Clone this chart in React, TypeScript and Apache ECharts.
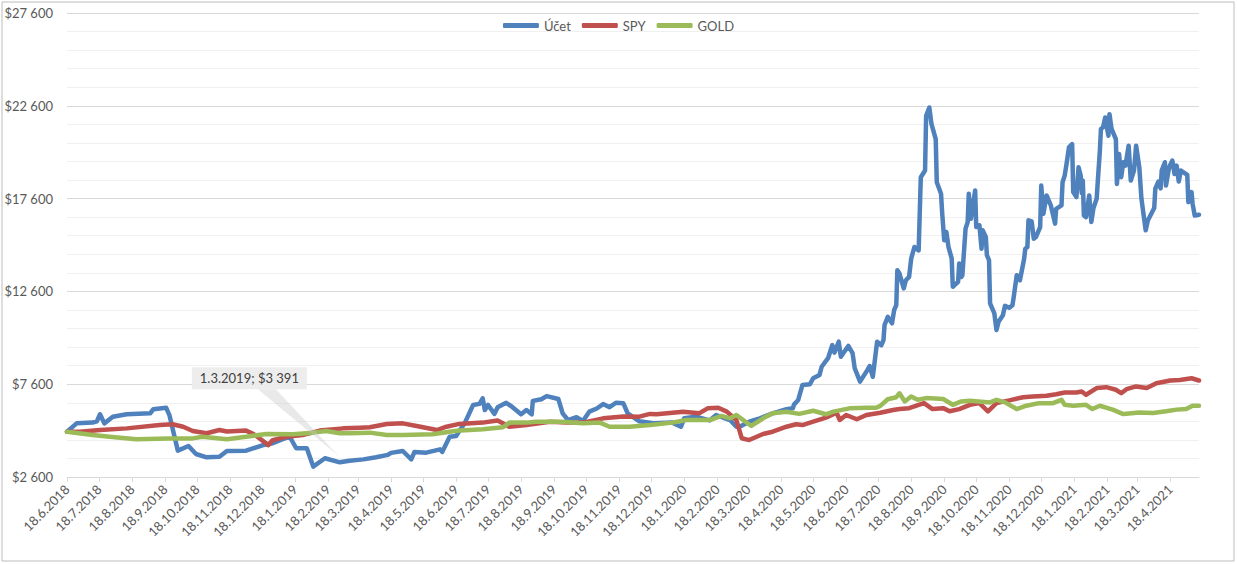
import React, { useEffect, useRef } from 'react';
import * as echarts from 'echarts';

const SERIES_NAMES = ['Účet', 'SPY', 'GOLD'];
const SERIES_COLORS = ['#4f81bd', '#c0504d', '#9bbb59'];

const X_TICK_LABELS = [
  '18.6.2018', '18.7.2018', '18.8.2018', '18.9.2018', '18.10.2018', '18.11.2018', '18.12.2018',
  '18.1.2019', '18.2.2019', '18.3.2019', '18.4.2019', '18.5.2019', '18.6.2019', '18.7.2019',
  '18.8.2019', '18.9.2019', '18.10.2019', '18.11.2019', '18.12.2019', '18.1.2020', '18.2.2020',
  '18.3.2020', '18.4.2020', '18.5.2020', '18.6.2020', '18.7.2020', '18.8.2020', '18.9.2020',
  '18.10.2020', '18.11.2020', '18.12.2020', '18.1.2021', '18.2.2021', '18.3.2021', '18.4.2021',
];
const X_START = '2018-06-18';
const X_END = '2021-05-15';

const Y_MIN = 2600;
const Y_MAX = 27600;
const Y_MAJOR = 5000;
const Y_MINOR = 1000;

const UCET: [string, number][] = [
  ['2018-06-18', 5040], ['2018-06-27', 5490], ['2018-07-12', 5530], ['2018-07-16', 5600],
  ['2018-07-19', 5980], ['2018-07-23', 5490], ['2018-07-31', 5850], ['2018-08-13', 5980],
  ['2018-09-04', 6030], ['2018-09-07', 6250], ['2018-09-19', 6330], ['2018-09-22', 5950],
  ['2018-09-30', 4020], ['2018-10-10', 4270], ['2018-10-17', 3840], ['2018-10-27', 3660],
  ['2018-11-08', 3690], ['2018-11-15', 4000], ['2018-12-03', 4020], ['2018-12-19', 4320],
  ['2018-12-28', 4420], ['2019-01-04', 4590], ['2019-01-13', 4770], ['2019-01-19', 4150],
  ['2019-01-29', 4150], ['2019-02-04', 3160], ['2019-02-15', 3610], ['2019-03-01', 3391],
  ['2019-03-10', 3480], ['2019-03-23', 3550], ['2019-04-04', 3660], ['2019-04-15', 3790],
  ['2019-04-18', 3900], ['2019-04-29', 4000], ['2019-05-07', 3550], ['2019-05-10', 3950],
  ['2019-05-21', 3910], ['2019-06-03', 4090], ['2019-06-05', 3950], ['2019-06-12', 4770],
  ['2019-06-18', 4810], ['2019-06-26', 5490], ['2019-07-04', 6480], ['2019-07-10', 6540],
  ['2019-07-13', 6840], ['2019-07-15', 6210], ['2019-07-18', 6480], ['2019-07-24', 6000],
  ['2019-07-27', 6360], ['2019-08-04', 6600], ['2019-08-10', 6360], ['2019-08-18', 5980],
  ['2019-08-23', 6210], ['2019-08-28', 5980], ['2019-08-29', 6700], ['2019-09-06', 6790],
  ['2019-09-11', 6960], ['2019-09-22', 6800], ['2019-09-26', 6030], ['2019-10-01', 5670],
  ['2019-10-09', 5820], ['2019-10-15', 5620], ['2019-10-21', 6120], ['2019-10-28', 6290],
  ['2019-11-03', 6530], ['2019-11-09', 6360], ['2019-11-15', 6600], ['2019-11-22', 6570],
  ['2019-11-26', 6030], ['2019-12-07', 5600], ['2019-12-20', 5500], ['2020-01-07', 5530],
  ['2020-01-15', 5310], ['2020-01-18', 5760], ['2020-01-29', 5850], ['2020-02-11', 5650],
  ['2020-02-17', 5940], ['2020-03-01', 5670], ['2020-03-07', 5310], ['2020-03-10', 5310],
  ['2020-03-19', 5580], ['2020-03-29', 5760], ['2020-04-10', 6030], ['2020-04-23', 6250],
  ['2020-04-29', 6300], ['2020-04-30', 6500], ['2020-05-04', 6750], ['2020-05-08', 7560],
  ['2020-05-15', 7600], ['2020-05-18', 7920], ['2020-05-24', 8100], ['2020-05-26', 8540],
  ['2020-06-01', 9000], ['2020-06-05', 9710], ['2020-06-07', 9300], ['2020-06-11', 9890],
  ['2020-06-13', 9080], ['2020-06-20', 9660], ['2020-06-24', 9270], ['2020-06-26', 8460],
  ['2020-07-01', 7740], ['2020-07-08', 8370], ['2020-07-10', 8580], ['2020-07-13', 8000],
  ['2020-07-17', 9890], ['2020-07-21', 9700], ['2020-07-23', 9980], ['2020-07-24', 10790],
  ['2020-07-27', 11230], ['2020-07-31', 10880], ['2020-08-02', 11590], ['2020-08-04', 11860],
  ['2020-08-05', 13740], ['2020-08-07', 13560], ['2020-08-11', 12760], ['2020-08-13', 13200],
  ['2020-08-16', 13380], ['2020-08-18', 14370], ['2020-08-21', 14990], ['2020-08-25', 14810],
  ['2020-08-27', 18750], ['2020-08-31', 19110], ['2020-09-01', 22060], ['2020-09-04', 22510],
  ['2020-09-06', 21620], ['2020-09-10', 20810], ['2020-09-11', 18480], ['2020-09-15', 17860],
  ['2020-09-16', 16870], ['2020-09-18', 15350], ['2020-09-20', 15800], ['2020-09-22', 14990],
  ['2020-09-25', 14370], ['2020-09-26', 12850], ['2020-10-01', 13110], ['2020-10-02', 14100],
  ['2020-10-04', 13380], ['2020-10-05', 13470], ['2020-10-08', 15980], ['2020-10-10', 16340],
  ['2020-10-11', 17860], ['2020-10-13', 16510], ['2020-10-17', 18040], ['2020-10-18', 16070],
  ['2020-10-21', 16160], ['2020-10-23', 14900], ['2020-10-24', 15890], ['2020-10-27', 15530],
  ['2020-10-28', 14550], ['2020-10-30', 14280], ['2020-10-31', 11950], ['2020-11-04', 11410],
  ['2020-11-06', 10520], ['2020-11-08', 10970], ['2020-11-12', 11320], ['2020-11-14', 11820],
  ['2020-11-18', 11720], ['2020-11-21', 11860], ['2020-11-22', 12220], ['2020-11-25', 13470],
  ['2020-11-28', 13200], ['2020-12-02', 14370], ['2020-12-03', 14900], ['2020-12-05', 14990],
  ['2020-12-06', 16430], ['2020-12-09', 16370], ['2020-12-11', 15440], ['2020-12-13', 15530],
  ['2020-12-17', 16070], ['2020-12-18', 18300], ['2020-12-20', 16780], ['2020-12-23', 17770],
  ['2020-12-27', 17230], ['2020-12-31', 16250], ['2021-01-01', 17050], ['2021-01-06', 17230],
  ['2021-01-07', 18480], ['2021-01-09', 18840], ['2021-01-11', 19560], ['2021-01-13', 20360],
  ['2021-01-16', 20540], ['2021-01-17', 17950], ['2021-01-20', 17680], ['2021-01-22', 19290],
  ['2021-01-24', 18840], ['2021-01-25', 17900], ['2021-01-26', 18570], ['2021-01-27', 16690],
  ['2021-01-29', 16600], ['2021-02-01', 17770], ['2021-02-03', 16340], ['2021-02-05', 17100],
  ['2021-02-08', 17590], ['2021-02-09', 18480], ['2021-02-11', 20180], ['2021-02-12', 21350],
  ['2021-02-14', 21440], ['2021-02-16', 21970], ['2021-02-19', 20990], ['2021-02-20', 22150],
  ['2021-02-22', 21350], ['2021-02-26', 20810], ['2021-02-27', 18390], ['2021-03-01', 20000],
  ['2021-03-03', 18750], ['2021-03-05', 19560], ['2021-03-07', 19380], ['2021-03-10', 20450],
  ['2021-03-12', 18570], ['2021-03-15', 19110], ['2021-03-17', 20450], ['2021-03-20', 19290],
  ['2021-03-22', 17590], ['2021-03-26', 15890], ['2021-03-28', 16420], ['2021-04-03', 17090],
  ['2021-04-04', 18130], ['2021-04-07', 18520], ['2021-04-09', 18150], ['2021-04-10', 19110],
  ['2021-04-13', 19560], ['2021-04-14', 18300], ['2021-04-17', 19290], ['2021-04-20', 19650],
  ['2021-04-22', 18930], ['2021-04-24', 19380], ['2021-04-26', 18520], ['2021-04-28', 19110],
  ['2021-05-04', 18880], ['2021-05-05', 17410], ['2021-05-08', 17950], ['2021-05-09', 17320],
  ['2021-05-11', 16690], ['2021-05-15', 16730],
];

const SPY: [string, number][] = [
  ['2018-06-18', 5040], ['2018-06-30', 5040], ['2018-07-19', 5130], ['2018-08-13', 5220],
  ['2018-09-13', 5400], ['2018-09-25', 5440], ['2018-10-05', 5310], ['2018-10-14', 5080],
  ['2018-10-27', 4960], ['2018-11-08', 5130], ['2018-11-15', 5050], ['2018-12-03', 5100],
  ['2018-12-10', 4920], ['2018-12-24', 4320], ['2018-12-28', 4590], ['2019-01-10', 4770],
  ['2019-01-25', 4860], ['2019-02-10', 5100], ['2019-03-04', 5220], ['2019-03-20', 5260],
  ['2019-03-29', 5280], ['2019-04-14', 5460], ['2019-04-29', 5490], ['2019-05-12', 5350],
  ['2019-05-31', 5130], ['2019-06-09', 5310], ['2019-06-21', 5460], ['2019-07-13', 5530],
  ['2019-07-27', 5640], ['2019-08-07', 5310], ['2019-08-23', 5400], ['2019-09-14', 5580],
  ['2019-09-30', 5530], ['2019-10-15', 5530], ['2019-11-03', 5760], ['2019-11-22', 5860],
  ['2019-12-07', 5850], ['2019-12-17', 6000], ['2019-12-23', 5980], ['2020-01-17', 6120],
  ['2020-02-01', 6030], ['2020-02-09', 6300], ['2020-02-19', 6330], ['2020-02-27', 6120],
  ['2020-03-07', 5670], ['2020-03-12', 4690], ['2020-03-19', 4590], ['2020-04-01', 4920],
  ['2020-04-10', 5040], ['2020-04-23', 5310], ['2020-05-02', 5440], ['2020-05-08', 5400],
  ['2020-05-18', 5580], ['2020-05-30', 5800], ['2020-06-09', 6060], ['2020-06-12', 5670],
  ['2020-06-18', 5940], ['2020-06-28', 5710], ['2020-07-07', 5940], ['2020-07-20', 6060],
  ['2020-08-01', 6210], ['2020-08-07', 6260], ['2020-08-16', 6310], ['2020-08-30', 6580],
  ['2020-09-07', 6260], ['2020-09-17', 6310], ['2020-09-23', 6140], ['2020-10-02', 6260],
  ['2020-10-12', 6490], ['2020-10-21', 6580], ['2020-10-29', 6140], ['2020-11-06', 6580],
  ['2020-11-18', 6730], ['2020-12-01', 6900], ['2020-12-10', 6940], ['2020-12-23', 6980],
  ['2021-01-01', 7060], ['2021-01-09', 7150], ['2021-01-20', 7150], ['2021-01-25', 7210],
  ['2021-01-29', 7030], ['2021-02-08', 7390], ['2021-02-17', 7440], ['2021-02-26', 7300],
  ['2021-03-03', 7120], ['2021-03-08', 7330], ['2021-03-17', 7480], ['2021-03-27', 7390],
  ['2021-04-05', 7650], ['2021-04-18', 7800], ['2021-04-27', 7830], ['2021-05-08', 7920],
  ['2021-05-15', 7800],
];

const GOLD: [string, number][] = [
  ['2018-06-18', 5040], ['2018-07-12', 4860], ['2018-07-28', 4770], ['2018-08-22', 4630],
  ['2018-09-22', 4680], ['2018-10-14', 4680], ['2018-10-23', 4770], ['2018-11-15', 4630],
  ['2018-12-03', 4770], ['2018-12-22', 4920], ['2019-01-16', 4900], ['2019-02-04', 4990],
  ['2019-02-16', 5080], ['2019-03-01', 4960], ['2019-03-10', 4960], ['2019-03-29', 4990],
  ['2019-04-14', 4860], ['2019-04-29', 4860], ['2019-05-27', 4900], ['2019-06-12', 5040],
  ['2019-06-21', 5100], ['2019-07-01', 5130], ['2019-07-13', 5170], ['2019-08-01', 5280],
  ['2019-08-07', 5530], ['2019-08-23', 5530], ['2019-09-01', 5580], ['2019-09-26', 5580],
  ['2019-10-15', 5490], ['2019-10-31', 5530], ['2019-11-09', 5310], ['2019-11-28', 5310],
  ['2019-12-17', 5400], ['2020-01-07', 5530], ['2020-01-20', 5670], ['2020-02-11', 5670],
  ['2020-02-22', 5890], ['2020-03-01', 5760], ['2020-03-07', 5940], ['2020-03-21', 5350],
  ['2020-04-01', 5760], ['2020-04-10', 6030], ['2020-04-23', 6120], ['2020-05-05', 6000],
  ['2020-05-18', 6170], ['2020-05-30', 5980], ['2020-06-06', 6120], ['2020-06-21', 6300],
  ['2020-07-07', 6330], ['2020-07-16', 6330], ['2020-07-20', 6430], ['2020-07-27', 6790],
  ['2020-08-04', 6900], ['2020-08-07', 7110], ['2020-08-12', 6670], ['2020-08-18', 6940],
  ['2020-08-24', 6760], ['2020-09-01', 6850], ['2020-09-17', 6800], ['2020-09-26', 6490],
  ['2020-10-04', 6670], ['2020-10-12', 6710], ['2020-10-31', 6620], ['2020-11-06', 6760],
  ['2020-11-14', 6620], ['2020-11-25', 6260], ['2020-12-04', 6440], ['2020-12-16', 6580],
  ['2020-12-29', 6580], ['2021-01-06', 6760], ['2021-01-09', 6490], ['2021-01-17', 6440],
  ['2021-01-29', 6490], ['2021-02-04', 6260], ['2021-02-11', 6440], ['2021-02-23', 6230],
  ['2021-03-05', 5990], ['2021-03-20', 6080], ['2021-04-02', 6050], ['2021-04-14', 6140],
  ['2021-04-24', 6230], ['2021-05-03', 6260], ['2021-05-09', 6440], ['2021-05-15', 6440],
];

const CALLOUT_DATE = '2019-03-01';
const CALLOUT_VALUE = 3391;

const FONT = 'Lato, "Open Sans", sans-serif';
const TEXT_COLOR = '#595959';

function isoToTs(s: string): number {
  const [y, m, d] = s.split('-').map(Number);
  return Date.UTC(y, m - 1, d);
}
function dmyToTs(s: string): number {
  const [d, m, y] = s.split('.').map(Number);
  return Date.UTC(y, m - 1, d);
}
function tsToDmy(ts: number): string {
  const d = new Date(ts);
  return `${d.getUTCDate()}.${d.getUTCMonth() + 1}.${d.getUTCFullYear()}`;
}
function money(v: number): string {
  const r = Math.round(v);
  const th = Math.floor(r / 1000);
  const rest = r % 1000;
  return th > 0 ? `$${th} ${String(rest).padStart(3, '0')}` : `$${rest}`;
}

export default function App() {
  const ref = useRef<HTMLDivElement>(null);

  useEffect(() => {
    document.body.style.margin = '0';
    if (!ref.current) return;
    const chart = echarts.init(ref.current, undefined, { renderer: 'svg' });

    const tickTs = X_TICK_LABELS.map(dmyToTs);
    const labelByTs = new Map<number, string>();
    X_TICK_LABELS.forEach((l, i) => labelByTs.set(tickTs[i], l));

    const Y_STEP = 200;
    const perMajor = Y_MAJOR / Y_STEP;
    const perMinor = Y_MINOR / Y_STEP;
    const splitColors: string[] = [];
    for (let i = 0; i < perMajor; i++) {
      splitColors.push(i === 0 ? '#d9d9d9' : i % perMinor === 0 ? '#f0f0f0' : 'rgba(0,0,0,0)');
    }

    const seriesData = [UCET, SPY, GOLD];

    chart.setOption({
      animation: false,
      grid: { left: 67, right: 38, top: 13, bottom: 87, containLabel: false, outerBoundsMode: 'none' },
      legend: {
        data: SERIES_NAMES,
        top: 14,
        left: 'center',
        icon: 'roundRect',
        itemWidth: 36,
        itemHeight: 5,
        itemGap: 11,
        textStyle: { fontFamily: FONT, fontSize: 13, color: TEXT_COLOR },
      },
      xAxis: {
        type: 'value',
        min: isoToTs(X_START),
        max: isoToTs(X_END),
        splitLine: { show: false },
        axisLine: { show: true, lineStyle: { color: '#d9d9d9', width: 1 } },
        axisTick: {
          show: true,
          customValues: tickTs,
          length: 5,
          lineStyle: { color: '#d9d9d9' },
        },
        axisLabel: {
          customValues: tickTs,
          rotate: 45,
          margin: 10,
          fontFamily: FONT,
          fontSize: 13,
          color: TEXT_COLOR,
          hideOverlap: false,
          formatter: (v: number) => labelByTs.get(v) ?? tsToDmy(v),
        },
      },
      yAxis: {
        type: 'value',
        min: Y_MIN,
        max: Y_MAX,
        interval: Y_STEP,
        axisLine: { show: false },
        axisTick: { show: false },
        splitLine: { show: true, lineStyle: { color: splitColors, width: 1 } },
        axisLabel: {
          margin: 14,
          fontFamily: FONT,
          fontSize: 13,
          color: TEXT_COLOR,
          formatter: (v: number) => ((Math.round(v) - Y_MIN) % Y_MAJOR === 0 ? money(v) : ''),
        },
      },
      series: SERIES_NAMES.map((name, i) => ({
        name,
        type: 'line',
        data: seriesData[i].map(([d, v]) => [isoToTs(d), v]),
        showSymbol: false,
        symbol: 'none',
        color: SERIES_COLORS[i],
        lineStyle: { width: 4.5, color: SERIES_COLORS[i], cap: 'round', join: 'round' },
      })),
    });

    const p = chart.convertToPixel({ xAxisIndex: 0, yAxisIndex: 0 }, [isoToTs(CALLOUT_DATE), CALLOUT_VALUE]) as number[];
    const px = p[0];
    const py = p[1];
    const boxL = px - 148;
    const boxT = py - 95;
    const boxW = 115;
    const boxH = 22;

    chart.setOption({
      graphic: [
        {
          type: 'rect',
          silent: true,
          z: 0,
          shape: { x: 2, y: 2, width: 1232, height: 559 },
          style: { fill: 'none', stroke: '#bcbcbc', lineWidth: 1 },
        },
        {
          type: 'polygon',
          silent: true,
          z: 100,
          shape: { points: [[px - 82, boxT + boxH], [px - 64, boxT + boxH], [px - 1, py - 6]] },
          style: { fill: 'rgba(200,200,200,0.4)' },
        },
        {
          type: 'rect',
          silent: true,
          z: 101,
          shape: { x: boxL, y: boxT, width: boxW, height: boxH },
          style: { fill: 'rgba(236,236,236,0.95)' },
        },
        {
          type: 'text',
          silent: true,
          z: 102,
          x: boxL + boxW / 2,
          y: boxT + boxH / 2,
          style: {
            text: `${tsToDmy(isoToTs(CALLOUT_DATE))}; ${money(CALLOUT_VALUE)}`,
            font: `13px ${FONT}`,
            fill: '#404040',
            align: 'center',
            verticalAlign: 'middle',
          },
        },
      ],
    });

    return () => chart.dispose();
  }, []);

  return <div ref={ref} style={{ position: 'absolute', left: 0, top: 0, width: 1237, height: 564 }} />;
}
